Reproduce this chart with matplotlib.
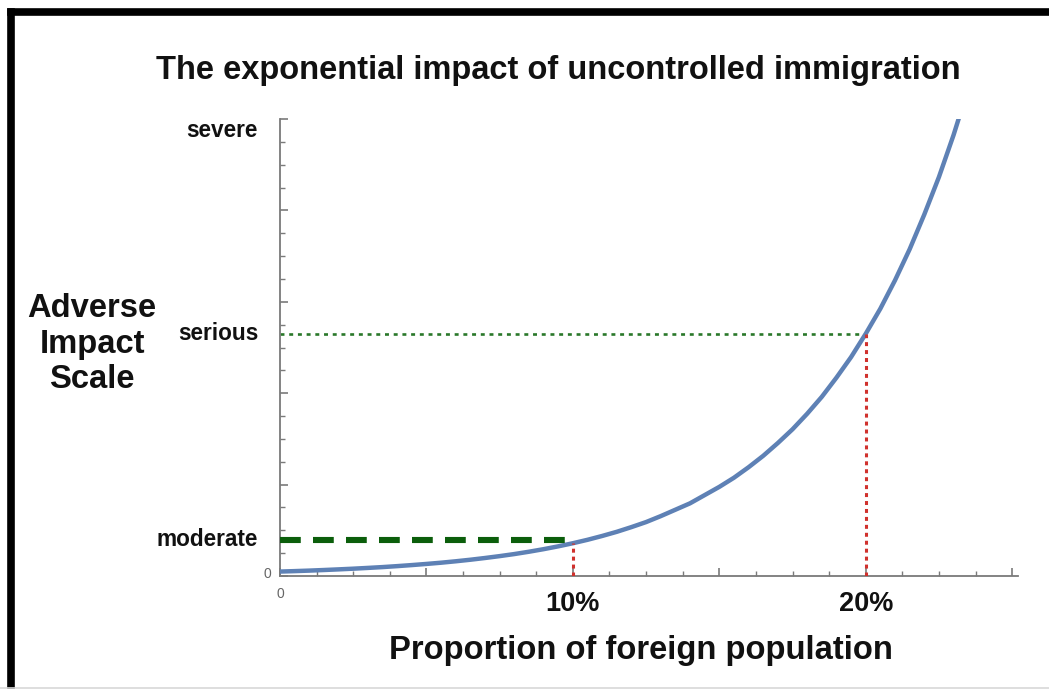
import matplotlib
matplotlib.use("Agg")
import matplotlib.pyplot as plt
from matplotlib.ticker import MultipleLocator
from matplotlib.lines import Line2D

# Data
x_pct = [0, 0.5, 1, 1.5, 2, 2.5, 3, 3.5, 4, 4.5, 5, 5.5, 6, 6.5, 7, 7.5, 8, 8.5, 9, 9.5,
         10, 10.5, 11, 11.5, 12, 12.5, 13, 13.5, 14, 14.5, 15, 15.5, 16, 16.5, 17, 17.5,
         18, 18.5, 19, 19.5, 20, 20.5, 21, 21.5, 22, 22.5, 23, 23.5, 24]
impact = [0.97, 1.07, 1.18, 1.31, 1.45, 1.60, 1.77, 1.95, 2.16, 2.39, 2.64, 2.91, 3.22, 3.56,
          3.94, 4.35, 4.80, 5.31, 5.87, 6.49, 7.17, 7.92, 8.76, 9.67, 10.7, 11.8, 13.1, 14.5,
          15.9, 17.7, 19.5, 21.5, 23.8, 26.3, 29.1, 32.1, 35.5, 39.2, 43.4, 47.9, 53.0, 58.5,
          64.7, 71.5, 79.1, 87.3, 96.5, 106.7, 117.9]
level_names = ["moderate", "serious", "severe"]
level_values = [7.9, 53.0, 100]
marker_x = [10, 20]
marker_top = [7.17, 53.0]
marker_labels = ["10%", "20%"]

title = "The exponential impact of uncontrolled immigration"
xlabel = "Proportion of foreign population"
ylabel = "Adverse\nImpact\nScale"

W, H = 1049, 689
fig = plt.figure(figsize=(W / 100, H / 100), dpi=100)
plt.rcParams['font.family'] = ['Liberation Sans', 'DejaVu Sans']

ax = fig.add_axes([280 / W, 1 - 576 / H, (1018 - 280) / W, (576 - 119) / H])
ax.set_xlim(0, 25.2)
ax.set_ylim(0, 100)

for s in ["top", "right"]:
    ax.spines[s].set_visible(False)
for s in ["left", "bottom"]:
    ax.spines[s].set_color("#7a7a7a")
    ax.spines[s].set_linewidth(1.3)

ax.xaxis.set_major_locator(MultipleLocator(5))
ax.xaxis.set_minor_locator(MultipleLocator(1.25))
ax.yaxis.set_major_locator(MultipleLocator(20))
ax.yaxis.set_minor_locator(MultipleLocator(5))
ax.tick_params(which="both", direction="in", color="#7a7a7a", labelleft=False, labelbottom=False)
ax.tick_params(which="major", length=6, width=1.2)
ax.tick_params(which="minor", length=3.5, width=1.0)

# curve
ax.plot(x_pct, impact, color="#5E81B5", lw=3.2, solid_capstyle="butt", solid_joinstyle="round",
        zorder=3, clip_on=True)

# guide lines
mod_y = level_values[0]
ser_y = level_values[1]
ax.plot([0, marker_x[0]], [mod_y, mod_y], color="#0b5e0b", lw=4.4, dashes=(3.4, 2.0), zorder=4)
ax.plot([0, marker_x[1]], [ser_y, ser_y], color="#2a782a", lw=1.9, dashes=(1.5, 1.8), zorder=2)
for xm, top in zip(marker_x, marker_top):
    ax.plot([xm, xm], [0, top], color="#d0312d", lw=2.2, dashes=(1.3, 1.3), zorder=4)

# level labels
for name, v in zip(level_names, level_values):
    yy = v if name != "severe" else 97.5
    ax.text(-0.75, yy, name, ha="right", va="center", fontsize=16.3, fontweight="bold",
            color="#111111", clip_on=False)
ax.text(-0.3, 0.5, "0", ha="right", va="center", fontsize=10, color="#666666", clip_on=False)
ax.text(0, -2.3, "0", ha="center", va="top", fontsize=10, color="#666666", clip_on=False)

for xm, lab in zip(marker_x, marker_labels):
    ax.text(xm, -3.2, lab, ha="center", va="top", fontsize=19.5, fontweight="bold", color="#111111",
            clip_on=False)

fig.text(558 / W, 1 - 70 / H, title, ha="center", va="center", fontsize=23.5, fontweight="bold", color="#111111")
fig.text(641 / W, 1 - 650 / H, xlabel, ha="center", va="center", fontsize=23.6, fontweight="bold", color="#111111")
fig.text(92 / W, 1 - 344 / H, ylabel, ha="center", va="center", fontsize=23.6, fontweight="bold",
         color="#111111", linespacing=1.2)

# frame (left & top black border, bottom light gray)
fig.add_artist(Line2D([10.5 / W, 10.5 / W], [0, 1 - 11.5 / H], transform=fig.transFigure, color="black", lw=5.5,
                      solid_capstyle="projecting"))
fig.add_artist(Line2D([10.5 / W, 1], [1 - 11.5 / H, 1 - 11.5 / H], transform=fig.transFigure, color="black", lw=5.5,
                      solid_capstyle="projecting"))
fig.add_artist(Line2D([0, 1], [1 - 687.5 / H, 1 - 687.5 / H], transform=fig.transFigure, color="#d8d8d8", lw=1.2))

fig.savefig("out.png", dpi=100)
